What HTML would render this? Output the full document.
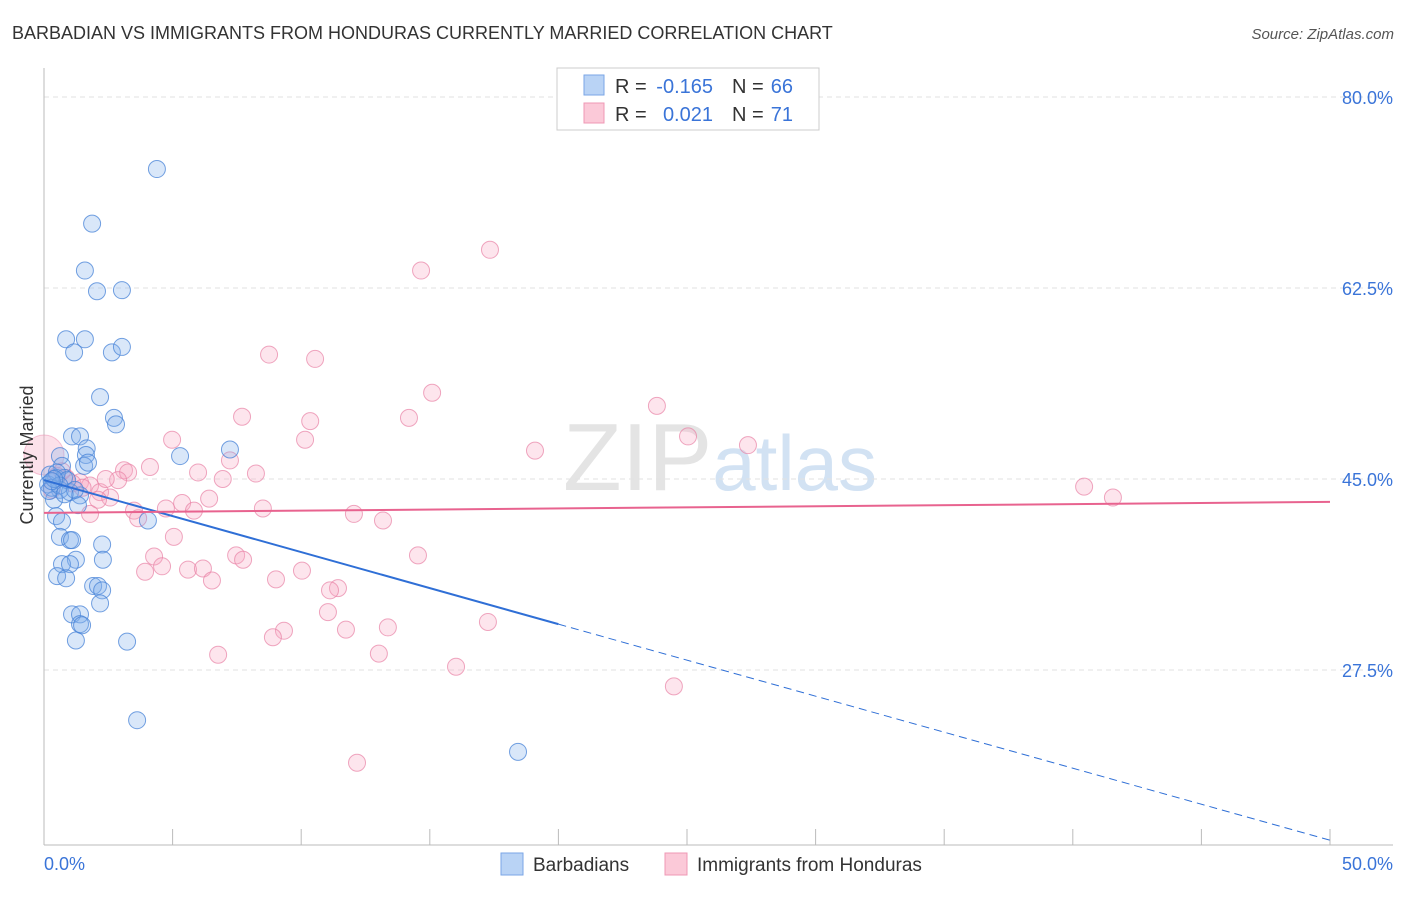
<!DOCTYPE html>
<html><head><meta charset="utf-8"><style>
body{margin:0;background:#fff;font-family:"Liberation Sans",sans-serif;}
svg text{font-family:"Liberation Sans",sans-serif;}
</style></head><body>
<svg id="chart" width="1406" height="892" xmlns="http://www.w3.org/2000/svg">
<text x="12" y="39" font-size="18" fill="#333">BARBADIAN VS IMMIGRANTS FROM HONDURAS CURRENTLY MARRIED CORRELATION CHART</text>
<text x="1394" y="39" font-size="15" fill="#555" text-anchor="end" font-style="italic">Source: ZipAtlas.com</text>
<text x="720" y="490" font-size="96" text-anchor="middle" fill="#e4e4e4" font-family="Liberation Serif"><tspan>ZIP</tspan><tspan fill="#d2e2f3" font-family="Liberation Sans" font-size="78">atlas</tspan></text>
<g id="grid"></g><g id="axes"></g><g id="marks"></g><g id="lines"></g>
<text transform="translate(33,455) rotate(-90)" font-size="18" fill="#333" text-anchor="middle">Currently Married</text>
<g>
<rect x="557" y="68" width="262" height="62" fill="#fff" stroke="#ccc"/>
<rect x="584" y="75" width="20" height="20" fill="#b9d3f5" stroke="#7aa6e6"/>
<rect x="584" y="103" width="20" height="20" fill="#fbc9d8" stroke="#ef98b5"/>
<text x="615" y="93" font-size="20" fill="#333">R =</text>
<text x="713" y="93" font-size="20" fill="#3a74d8" text-anchor="end">-0.165</text>
<text x="732" y="93" font-size="20" fill="#333">N =</text>
<text x="793" y="93" font-size="20" fill="#3a74d8" text-anchor="end">66</text>
<text x="615" y="121" font-size="20" fill="#333">R =</text>
<text x="713" y="121" font-size="20" fill="#3a74d8" text-anchor="end">0.021</text>
<text x="732" y="121" font-size="20" fill="#333">N =</text>
<text x="793" y="121" font-size="20" fill="#3a74d8" text-anchor="end">71</text>
</g>
<g>
<rect x="501" y="853" width="22" height="22" fill="#b9d3f5" stroke="#7aa6e6"/>
<text x="533" y="871" font-size="19" fill="#333">Barbadians</text>
<rect x="665" y="853" width="22" height="22" fill="#fbc9d8" stroke="#ef98b5"/>
<text x="697" y="871" font-size="19" fill="#333">Immigrants from Honduras</text>
</g>
</svg>
<script>
const yTicks=[80,62.5,45,27.5];
const xTickLabels=["0.0%","50.0%"];
const blueX=[4.39,1.87,1.59,2.06,3.03,0.86,1.59,1.17,2.64,3.03,2.18,2.72,2.80,1.09,1.40,1.66,1.63,5.29,7.23,0.62,0.70,1.56,1.71,0.23,0.47,0.78,0.16,0.62,1.01,1.40,0.39,1.32,0.47,0.70,4.04,0.62,1.01,1.09,2.26,1.24,2.29,0.70,1.01,0.51,0.86,1.91,2.10,2.26,2.18,1.09,1.40,1.40,1.48,1.24,3.23,3.62,18.43,0.3,0.5,0.9,0.2,0.6,1.2,0.4,0.8,0.3];
const blueY=[73.4,68.4,64.1,62.2,62.3,57.8,57.8,56.6,56.6,57.1,52.5,50.6,50.0,48.9,48.9,47.8,47.2,47.1,47.7,47.1,46.2,46.2,46.5,45.4,45.1,45.1,44.5,44.0,43.8,43.5,43.1,42.6,41.6,41.1,41.2,39.7,39.4,39.4,39.0,37.6,37.6,37.2,37.2,36.1,35.9,35.2,35.2,34.8,33.6,32.6,32.6,31.7,31.6,30.2,30.1,22.9,20.0,44.2,45.6,44.9,43.9,44.4,44.0,45.0,43.6,44.8];
const pinkX=[17.34,14.66,8.75,10.54,15.09,23.83,14.19,7.70,10.35,4.98,10.15,25.04,27.37,19.09,7.23,4.12,3.11,3.27,5.99,8.24,6.95,2.88,0.86,1.40,1.79,2.18,2.57,2.10,5.37,6.42,8.51,5.83,3.50,1.79,3.66,4.74,12.05,13.18,40.44,41.56,5.05,7.47,7.74,4.28,14.54,4.59,5.60,6.18,3.93,10.03,6.53,9.02,11.43,11.12,11.04,17.26,13.37,11.74,9.33,8.90,6.77,13.02,16.02,24.49,12.17,0.5,1.1,0.3,0.7,1.5,2.4];
const pinkY=[66.0,64.1,56.4,56.0,52.9,51.7,50.6,50.7,50.3,48.6,48.6,48.9,48.1,47.6,46.7,46.1,45.8,45.6,45.6,45.5,45.0,44.9,45.1,44.7,44.4,43.8,43.3,43.1,42.8,43.2,42.3,42.1,42.1,41.8,41.4,42.3,41.8,41.2,44.3,43.3,39.7,38.0,37.6,37.9,38.0,37.0,36.7,36.8,36.5,36.6,35.7,35.8,35.0,34.8,32.8,31.9,31.4,31.2,31.1,30.5,28.9,29.0,27.8,26.0,19.0,45.3,44.6,44.0,45.7,44.2,45.0];
const blueFit=[44.9,-0.66];
const pinkFit=[41.9,0.02];
const NS="http://www.w3.org/2000/svg";
const X=v=>44+v/50*1286;
const Y=v=>97+(80-v)*10.914;
function mk(p,t,a){const e=document.createElementNS(NS,t);for(const k in a)e.setAttribute(k,a[k]);p.appendChild(e);return e;}
const grid=document.getElementById('grid'),axes=document.getElementById('axes'),marks=document.getElementById('marks'),lines=document.getElementById('lines');
yTicks.forEach(t=>{
const l=mk(grid,'line',{x1:44,x2:1393,y1:Y(t),y2:Y(t),stroke:'#e2e2e2','stroke-dasharray':'5,4'});


const tx=mk(axes,'text',{x:1393,y:Y(t)+7,'font-size':18,fill:'#3a74d8','text-anchor':'end'});
tx.textContent=t.toFixed(1)+'%';


});
const ax=mk(axes,'line',{x1:44,x2:1393,y1:845,y2:845,stroke:'#bbb'});


const ay=mk(axes,'line',{x1:44,x2:44,y1:68,y2:845,stroke:'#bbb'});


for(let i=0;i<=10;i++){const t=mk(axes,'line',{x1:X(i*5),x2:X(i*5),y1:829,y2:845,stroke:'#bbb'});

}
const xl0=mk(axes,'text',{x:44,y:870,'font-size':18,fill:'#3a74d8'});xl0.textContent=xTickLabels[0];


const xl1=mk(axes,'text',{x:1393,y:870,'font-size':18,fill:'#3a74d8','text-anchor':'end'});xl1.textContent=xTickLabels[1];


const big=mk(marks,'circle',{cx:X(0),cy:Y(47.2),r:20,fill:'rgba(247,170,195,0.35)',stroke:'rgba(235,140,175,0.5)'});


pinkX.forEach((x,i)=>{const c=mk(marks,'circle',{cx:X(x),cy:Y(pinkY[i]),r:8.5,fill:'rgba(247,170,195,0.3)',stroke:'rgba(232,130,165,0.7)'});

});
blueX.forEach((x,i)=>{const c=mk(marks,'circle',{cx:X(x),cy:Y(blueY[i]),r:8.5,fill:'rgba(130,175,235,0.3)',stroke:'rgba(70,130,215,0.75)'});

});
const f=(p,x)=>p[0]+p[1]*x;
const bs=mk(lines,'line',{x1:X(0),y1:Y(f(blueFit,0)),x2:X(20),y2:Y(f(blueFit,20)),stroke:'#2f6fd6','stroke-width':2});


const bd=mk(lines,'line',{x1:X(20),y1:Y(f(blueFit,20)),x2:X(50),y2:Y(f(blueFit,50)),stroke:'#2f6fd6','stroke-width':1,'stroke-dasharray':'8,5'});


const pl=mk(lines,'line',{x1:X(0),y1:Y(f(pinkFit,0)),x2:X(50),y2:Y(f(pinkFit,50)),stroke:'#e8638f','stroke-width':2});


</script>
</body></html>
